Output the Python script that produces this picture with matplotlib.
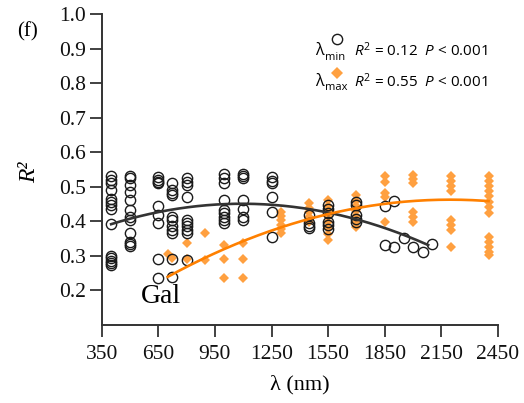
import numpy as np
import matplotlib
matplotlib.use("Agg")
import matplotlib.pyplot as plt
from matplotlib.lines import Line2D

# ---- data ----
min_nm = ([400]*14 + [500]*12 + [650]*9 + [720]*11 + [800]*10 + [1000]*9 + [1100]*7 +
          [1250]*6 + [1450]*4 + [1550]*6 + [1700]*5 + [1850]*2 + [1900]*2 +
          [1950, 2000, 2050, 2100])
min_r2 = [0.531, 0.521, 0.510, 0.490, 0.466, 0.456, 0.447, 0.437, 0.392, 0.299, 0.293, 0.286, 0.278, 0.273,
          0.531, 0.524, 0.505, 0.485, 0.461, 0.432, 0.413, 0.403, 0.367, 0.341, 0.334, 0.328,
          0.527, 0.521, 0.514, 0.510, 0.444, 0.418, 0.394, 0.290, 0.235,
          0.511, 0.492, 0.482, 0.476, 0.413, 0.403, 0.386, 0.376, 0.367, 0.290, 0.238,
          0.524, 0.514, 0.505, 0.471, 0.403, 0.396, 0.386, 0.375, 0.365, 0.288,
          0.536, 0.524, 0.511, 0.463, 0.432, 0.423, 0.413, 0.403, 0.394,
          0.536, 0.531, 0.524, 0.461, 0.437, 0.413, 0.403,
          0.527, 0.517, 0.511, 0.471, 0.428, 0.355,
          0.418, 0.394, 0.386, 0.380,
          0.447, 0.437, 0.423, 0.399, 0.389, 0.377,
          0.456, 0.447, 0.418, 0.408, 0.399,
          0.444, 0.331,
          0.458, 0.325,
          0.353, 0.327, 0.312, 0.333]

max_nm = ([700, 720] + [800]*2 + [900]*2 + [1000]*3 + [1100]*3 + [1300]*6 + [1450]*5 +
          [1550]*8 + [1700]*7 + [1850]*5 + [2000]*6 + [2200]*8 + [2400]*13)
max_r2 = [0.305, 0.293,
          0.336, 0.290,
          0.365, 0.288,
          0.331, 0.290, 0.236,
          0.338, 0.290, 0.235,
          0.428, 0.415, 0.403, 0.390, 0.378, 0.365,
          0.453, 0.440, 0.426, 0.412, 0.399,
          0.461, 0.445, 0.430, 0.414, 0.398, 0.382, 0.362, 0.346,
          0.476, 0.460, 0.445, 0.430, 0.414, 0.398, 0.384,
          0.531, 0.514, 0.481, 0.469, 0.398,
          0.534, 0.522, 0.510, 0.428, 0.413, 0.399,
          0.531, 0.517, 0.502, 0.488, 0.403, 0.389, 0.375, 0.327,
          0.531, 0.517, 0.502, 0.488, 0.473, 0.456, 0.442, 0.423, 0.355, 0.341, 0.327, 0.312, 0.302]

# trend lines
min_fit_nm = [400, 550, 700, 850, 1000, 1150, 1300, 1450, 1600, 1750, 1900, 2080]
min_fit_r2 = [0.392, 0.415, 0.432, 0.443, 0.449, 0.450, 0.446, 0.435, 0.420, 0.399, 0.372, 0.330]
max_fit_nm = [700, 850, 1000, 1150, 1300, 1450, 1600, 1750, 1900, 2050, 2200, 2400]
max_fit_r2 = [0.248, 0.276, 0.313, 0.350, 0.383, 0.412, 0.432, 0.445, 0.453, 0.458, 0.460, 0.460]

x_ticks = [350, 650, 950, 1250, 1550, 1850, 2150, 2450]
y_ticks = [0.2, 0.3, 0.4, 0.5, 0.6, 0.7, 0.8, 0.9, 1.0]

# ---- figure ----
W, H = 524, 403
fig = plt.figure(figsize=(W/100, H/100), dpi=100)
ax = fig.add_axes([101.7/W, 1-325/H, (498-101.7)/W, (325-14)/H])

serif = "Liberation Serif"
dark = "#333333"
orange_pt = "#FFA040"
orange_ln = "#FF8000"

ax.plot(max_nm, max_r2, linestyle="none", marker="D", markersize=5.1,
        color=orange_pt, markeredgewidth=0, zorder=2)
ax.plot(min_nm, min_r2, linestyle="none", marker="o", markersize=7.4,
        markerfacecolor="none", markeredgecolor="#1a1a1a", markeredgewidth=1.0, zorder=3)

c1 = np.polyfit(min_fit_nm, min_fit_r2, 2)
xs1 = np.linspace(min(min_fit_nm), max(min_fit_nm), 200)
ax.plot(xs1, np.polyval(c1, xs1), color=dark, lw=1.9, zorder=4)
c2 = np.polyfit(max_fit_nm, max_fit_r2, 2)
xs2 = np.linspace(min(max_fit_nm), max(max_fit_nm), 200)
ax.plot(xs2, np.polyval(c2, xs2), color=orange_ln, lw=1.9, zorder=5)

ax.set_xlim(350, 2450)
ax.set_ylim(0.1, 1.0)
ax.set_xticks(x_ticks)
ax.set_xticklabels([str(v) for v in x_ticks])
ax.set_yticks(y_ticks)
ax.set_yticklabels([f"{v:.1f}" for v in y_ticks])
for s in ["top", "right"]:
    ax.spines[s].set_visible(False)
for s in ["left", "bottom"]:
    ax.spines[s].set_linewidth(1.4)
    ax.spines[s].set_color(dark)
ax.tick_params(direction="out", length=8.5, width=1.3, color=dark,
               labelsize=15.5)
ax.tick_params(axis="x", pad=6)
ax.tick_params(axis="y", pad=3)
for lab in ax.get_xticklabels() + ax.get_yticklabels():
    lab.set_fontfamily(serif)
    lab.set_color("#111111")

ax.set_xlabel("λ (nm)", fontfamily=serif, fontsize=16, labelpad=8)
fig.text(30/W, 1-172/H, "R²", fontfamily=serif, fontstyle="italic", fontsize=17,
         rotation=90, ha="center", va="center")
fig.text(28/W, 1-32/H, "(f)", fontfamily=serif, fontsize=15, ha="center", va="center")
ax.text(0.098, 0.05, "Gal", transform=ax.transAxes, fontfamily=serif, fontsize=20,
        ha="left", va="bottom")

# legend
sans = "Open Sans"
plt.rcParams["mathtext.fontset"] = "custom"
plt.rcParams["mathtext.rm"] = sans
plt.rcParams["mathtext.it"] = sans + ":italic"
rows = [(51, "min", "o", r"$\it{R}^2$ = 0.12  $\it{P}$ < 0.001"),
        (82, "max", "D", r"$\it{R}^2$ = 0.55  $\it{P}$ < 0.001")]
for y, sub, mk, txt in rows:
    fig.text(315/W, 1-y/H, "λ", fontfamily=sans, fontsize=11.5, ha="left", va="center")
    fig.text(325/W, 1-(y+6)/H, sub, fontfamily=sans, fontsize=8, ha="left", va="center")
    fig.text(354/W, 1-y/H, txt, fontfamily=sans, fontsize=11, ha="left", va="center")
    if mk == "o":
        fig.add_artist(Line2D([337/W], [1-(y-12)/H], transform=fig.transFigure, marker="o",
                              markersize=7.4, markerfacecolor="none", markeredgecolor="#1a1a1a",
                              markeredgewidth=1.0, linestyle="none"))
    else:
        fig.add_artist(Line2D([337/W], [1-(y-9)/H], transform=fig.transFigure, marker="D",
                              markersize=6, color=orange_pt, markeredgewidth=0,
                              linestyle="none"))

fig.savefig("out.png", dpi=100)
